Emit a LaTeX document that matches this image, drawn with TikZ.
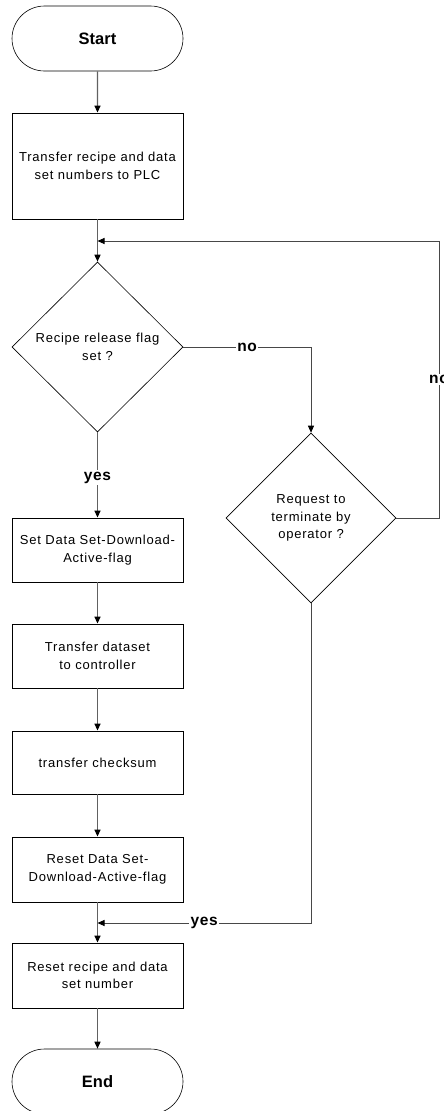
\documentclass[tikz,border=0pt]{standalone}
\usepackage{fontspec}
\setmainfont{Liberation Sans}
\newfontfamily\bodyfont[LetterSpace=6]{Liberation Sans}
\newfontfamily\lblfont[LetterSpace=4]{Liberation Sans}
\usetikzlibrary{shapes.geometric,shapes.misc,arrows.meta}
\begin{document}
\begin{tikzpicture}[x=1pt,y=-1pt,
  box/.style={draw=black,line width=0.8pt,minimum width=171pt,align=center,inner sep=0pt,
    font=\bodyfont\fontsize{13}{17.5}\selectfont},
  term/.style={rounded rectangle,draw=black,line width=0.6pt,minimum width=171pt,minimum height=65pt,
    inner sep=0pt,font=\fontsize{16.5}{20}\selectfont\bfseries},
  dec/.style={diamond,draw=black,line width=0.6pt,minimum width=171pt,minimum height=170pt,inner sep=0pt,
    align=center,font=\bodyfont\fontsize{13}{17.5}\selectfont},
  conn/.style={draw=black!62,line width=1.4pt},
  side/.style={draw=black!72,line width=0.9pt},
  tip/.style={-{Triangle[length=7pt,width=6pt,black]}},
  lbl/.style={fill=white,inner sep=1.5pt,font=\lblfont\fontsize{15.5}{18}\selectfont\bfseries}
]
\useasboundingbox (0,0) rectangle (444,1111);
\node[term] (start) at (97.5,38.5) {Start};
\node[box,minimum height=106pt] (b1) at (97.5,166) {Transfer recipe and data\\set numbers to PLC};
\node[dec] (d1) at (97.5,347) {Recipe release flag\\set ?};
\node[box,minimum height=64pt] (b2) at (97.5,550) {Set Data Set-Download-\\Active-flag};
\node[box,minimum height=64pt] (b3) at (97.5,656) {Transfer dataset\\to controller};
\node[box,minimum height=63pt] (b4) at (97.5,762.5) {transfer checksum};
\node[box,minimum height=65pt] (b5) at (97.5,869.5) {Reset Data Set-\\Download-Active-flag};
\node[box,minimum height=65pt] (b6) at (97.5,975.5) {Reset recipe and data\\set number};
\node[term] (end) at (97.5,1081.5) {End};
\node[dec,minimum width=170pt] (d2) at (311,518) {Request to\\terminate by\\operator ?};
\coordinate (j1) at (97.5,241);
\coordinate (j2) at (97.5,923);
\coordinate (rc) at (439,241);

\draw[conn,tip] (start) -- (b1);
\draw[conn,tip] (b1) -- (d1);
\draw[conn,tip] (d1) -- node[lbl,pos=0.53]{yes} (b2);
\draw[conn,tip] (b2) -- (b3);
\draw[conn,tip] (b3) -- (b4);
\draw[conn,tip] (b4) -- (b5);
\draw[conn,tip] (b5) -- (b6);
\draw[conn,tip] (b6) -- (end);
\draw[side,tip] (d1.east) -- node[lbl]{no} (d1.east -| d2.north) -- (d2.north);
\draw[side,tip] (d2.east) -- (d2.east -| rc) -- node[lbl]{no} (rc) -- (j1);
\draw[side,tip] (d2.south) -- (d2.south |- j2) -- node[lbl]{yes} (j2);
\end{tikzpicture}
\end{document}
